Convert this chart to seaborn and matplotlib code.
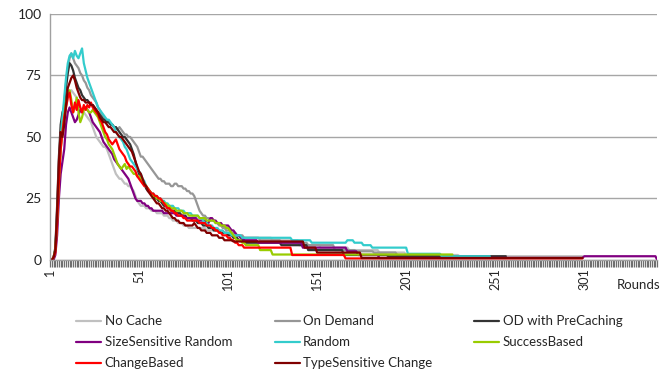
import numpy as np
import pandas as pd
import seaborn as sns
import matplotlib
matplotlib.use("Agg")
from matplotlib import pyplot as plt


def steps(runs):
    # run-length list of (value, count)
    out = []
    for v, n in runs:
        out += [np.nan if v is None else v] * n
    return out


n_rounds = 342
rounds = list(range(1, n_rounds + 1))

names = ["No Cache", "On Demand", "OD with PreCaching", "SizeSensitive Random",
         "Random", "SuccessBased", "ChangeBased", "TypeSensitive Change"]
colors = ["#C0C0C0", "#969696", "#333333", "#800080",
          "#33CCCC", "#99CC00", "#FF0000", "#800000"]

no_cache = [0, 0, 1, 4, 17, 33, 46, 53, 58, 62,
            66, 68, 69, 68, 67, 66, 64, 62, 60, 60,
            59, 58, 57, 56, 54, 52, 50, 49, 48, 47,
            46, 46, 45, 43, 41, 39, 37, 35, 34, 33,
            33, 32, 31, 31, 30, 30, 29, 28, 26, 24,
            23, 22, 22, 22, 21, 21, 21, 20, 20, 20,
            19, 19, 19, 19, 18, 18, 18, 17, 17, 16,
            16, 16, 15, 15, 15, 14, 14, 14, 13, 13,
            13, 13, 13, 13, 13, 13, 13, 13, 12, 12,
            12, 12, 12, 12, 12, 11, 11, 11, 11, 11,
            11, 11, 10, 10, 10, 10, 10, 9, 9, 9] + \
    steps([(9, 15), (8, 15), (6, 12), (5, 16), (4, 17), (3, 15), (2, 30), (1.5, 70), (None, 42)])

on_demand = [0, 0, 1, 4, 17, 34, 48, 56, 64, 72,
             78, 82, 84, 82, 80, 79, 78, 76, 75, 73,
             72, 70, 69, 67, 66, 65, 64, 62, 61, 59,
             58, 57, 57, 56, 55, 55, 54, 54, 53, 54,
             53, 52, 51, 51, 50, 50, 49, 48, 47, 46,
             44, 42, 42, 41, 40, 39, 38, 37, 36, 35,
             34, 33, 33, 32, 32, 31, 31, 31, 30, 30,
             31, 31, 30, 30, 30, 29, 29, 28, 28, 27,
             27, 26, 24, 22, 20, 19, 18, 18, 17, 17,
             16, 16, 16, 15, 15, 14, 14, 13, 13, 12,
             12, 12, 11, 11, 11, 10, 10, 10, 10, 9] + \
    steps([(9, 8), (8, 12), (7, 15), (6, 15), (4, 12), (3.5, 10), (3, 13), (2, 20), (1.5, 32), (None, 95)])

od_precaching = [0, 0, 1, 5, 22, 42, 55, 60, 62, 70,
                 76, 80, 79, 77, 74, 72, 70, 69, 67, 66,
                 65, 65, 64, 63, 63, 62, 61, 60, 59, 58,
                 57, 57, 56, 56, 55, 55, 54, 54, 53, 52,
                 51, 50, 50, 49, 48, 47, 45, 43, 40, 37,
                 35, 34, 32, 31, 29, 28, 28, 27, 26, 25,
                 25, 24, 24, 23, 22, 22, 21, 21, 20, 20,
                 20, 19, 19, 19, 18, 18, 18, 17, 17, 17,
                 16, 16, 16, 15, 15, 15, 14, 14, 14, 13,
                 13, 13, 12, 12, 12, 12, 11, 11, 11, 11,
                 10, 10, 10, 9, 9, 9, 8, 8, 8, 8] + \
    steps([(7, 20), (6, 15), (4, 20), (2, 25), (1.5, 67), (None, 85)])

size_random = [0, 0, 0, 2, 10, 25, 35, 40, 45, 55,
               60, 62, 60, 58, 56, 57, 59, 61, 60, 62,
               62, 61, 60, 58, 56, 55, 54, 53, 52, 50,
               48, 47, 46, 45, 44, 43, 41, 40, 39, 38,
               37, 36, 35, 34, 33, 31, 29, 27, 25, 24,
               24, 24, 23, 23, 22, 22, 21, 21, 20, 20,
               20, 20, 20, 20, 19, 19, 19, 19, 19, 19,
               19, 18, 18, 18, 18, 18, 17, 17, 17, 17,
               17, 17, 17, 16, 16, 16, 16, 16, 15, 15,
               17, 17, 16, 16, 15, 15, 15, 14, 14, 14,
               14, 13, 12, 12, 11, 10, 10, 9, 9, 8] + \
    steps([(8, 7), (7, 25), (5, 25), (3.5, 6), (2, 12), (0.8, 115), (1.5, 41), (0, 1)])

random_ = [0, 0, 1, 4, 18, 36, 50, 58, 66, 74,
           80, 83, 84, 82, 85, 83, 82, 84, 86, 80,
           77, 74, 72, 70, 68, 66, 64, 62, 61, 60,
           59, 58, 57, 57, 56, 55, 54, 52, 51, 50,
           49, 48, 46, 45, 43, 41, 40, 39, 38, 37,
           36, 35, 33, 32, 30, 29, 28, 27, 27, 26,
           26, 25, 25, 24, 24, 23, 23, 22, 22, 22,
           21, 21, 21, 20, 20, 20, 19, 19, 19, 19,
           18, 18, 18, 18, 17, 17, 16, 15, 15, 14,
           14, 14, 13, 13, 13, 12, 12, 12, 11, 11,
           11, 11, 10, 10, 10, 10, 10, 10, 9, 9] + \
    steps([(9, 26), (8, 11), (7, 20), (8, 4), (7, 5), (6, 5), (5, 20), (2.5, 19), (1.5, 28), (None, 94)])

success = [0, 0, 1, 4, 16, 32, 45, 52, 58, 64,
           68, 69, 65, 60, 62, 66, 60, 56, 58, 61,
           62, 61, 60, 60, 61, 60, 59, 58, 56, 54,
           52, 50, 49, 47, 46, 45, 43, 41, 39, 38,
           37, 38, 39, 37, 38, 37, 36, 35, 35, 34,
           34, 33, 32, 31, 30, 29, 28, 27, 26, 26,
           25, 25, 24, 24, 23, 23, 22, 22, 21, 21,
           21, 20, 20, 20, 20, 19, 19, 19, 18, 18,
           18, 18, 18, 18, 17, 17, 17, 17, 16, 16,
           16, 16, 16, 15, 15, 15, 14, 14, 14, 13,
           13, 12, 11, 10, 9, 8, 8, 8, 7, 7] + \
    steps([(6, 8), (4, 7), (2.2, 102), (None, 115)])

change = [0, 0, 1, 3, 15, 32, 45, 52, 58, 62,
          66, 68, 63, 60, 64, 61, 65, 62, 60, 63,
          61, 63, 62, 64, 62, 61, 60, 59, 57, 56,
          54, 52, 51, 49, 48, 47, 48, 49, 47, 45,
          44, 43, 42, 40, 39, 38, 38, 37, 36, 34,
          33, 32, 31, 30, 30, 29, 28, 27, 27, 26,
          26, 25, 25, 24, 23, 22, 21, 21, 20, 20,
          19, 19, 18, 18, 18, 17, 17, 16, 16, 16,
          16, 16, 16, 16, 15, 15, 15, 15, 14, 14,
          14, 13, 13, 12, 12, 11, 11, 10, 10, 10,
          9, 9, 8, 8, 7, 7, 6, 6, 6, 5] + \
    steps([(5, 26), (2, 30), (0.6, 134), (None, 42)])

type_change = [0, 0, 1, 4, 20, 40, 52, 50, 55, 63,
               70, 72, 74, 75, 73, 70, 68, 66, 65, 65,
               64, 64, 64, 63, 63, 62, 61, 60, 58, 57,
               56, 56, 55, 54, 54, 53, 52, 52, 51, 50,
               50, 49, 48, 47, 46, 45, 44, 42, 40, 38,
               36, 35, 33, 31, 30, 28, 27, 26, 25, 24,
               23, 23, 22, 21, 21, 20, 20, 19, 18, 17,
               17, 16, 16, 15, 15, 15, 14, 14, 14, 14,
               14, 15, 14, 13, 13, 12, 12, 12, 11, 11,
               11, 10, 10, 10, 10, 9, 9, 9, 8, 8,
               8, 8, 8, 7.5, 7.5, 7.5, 7.5, 7.5, 7.5, 7.5] + \
    steps([(7.5, 33), (5, 7), (3, 25), (0.8, 125), (None, 42)])

series = [no_cache, on_demand, od_precaching, size_random,
          random_, success, change, type_change]

frames = []
for name, vals in zip(names, series):
    frames.append(pd.DataFrame({"Rounds": rounds, "value": vals, "series": name}))
df = pd.concat(frames, ignore_index=True)

sns.set_style("white")
plt.rcParams["font.family"] = ["Lato", "DejaVu Sans"]

fig, ax = plt.subplots(figsize=(6.72, 3.74), dpi=100)
fig.subplots_adjust(left=0.0744, right=0.978, top=0.9626, bottom=0.305)

sns.lineplot(data=df, x="Rounds", y="value", hue="series", hue_order=names,
             palette=colors, linewidth=1.6, ax=ax)

ax.set_xlim(1, n_rounds)
ax.set_ylim(0, 100)
ax.set_yticks([0, 25, 50, 75, 100])
ax.grid(axis="y", color="#A6A6A6", linewidth=1)
ax.set_axisbelow(True)

# one short tick per round, label every 50 rounds
ax.set_xticks(rounds)
ax.set_xticklabels([str(r) if (r - 1) % 50 == 0 else "" for r in rounds])
ax.tick_params(axis="x", which="both", bottom=True, direction="out", length=5,
               width=0.9, color="#6E6E6E", labelrotation=90, labelsize=9, pad=1)
ax.tick_params(axis="y", length=0, labelsize=10, pad=6, colors="#222222")
ax.set_xlabel("")
ax.set_ylabel("")
for s in ["top", "right"]:
    ax.spines[s].set_visible(False)
for s in ["left", "bottom"]:
    ax.spines[s].set_color("#A0A0A0")
    ax.spines[s].set_linewidth(1)

handles, labels = ax.get_legend_handles_labels()
ax.get_legend().remove()
order = [0, 3, 6, 1, 4, 7, 2, 5]
fig.legend([handles[i] for i in order], [labels[i] for i in order],
           loc="center", bbox_to_anchor=(0.52, 0.085), ncol=3, frameon=False,
           fontsize=9.5, handlelength=1.9, handletextpad=0.25,
           columnspacing=3.2, labelspacing=0.68)

fig.text(0.982, 0.238, "Rounds", ha="right", va="center", fontsize=9.5)

plt.savefig("out.png", dpi=100)
